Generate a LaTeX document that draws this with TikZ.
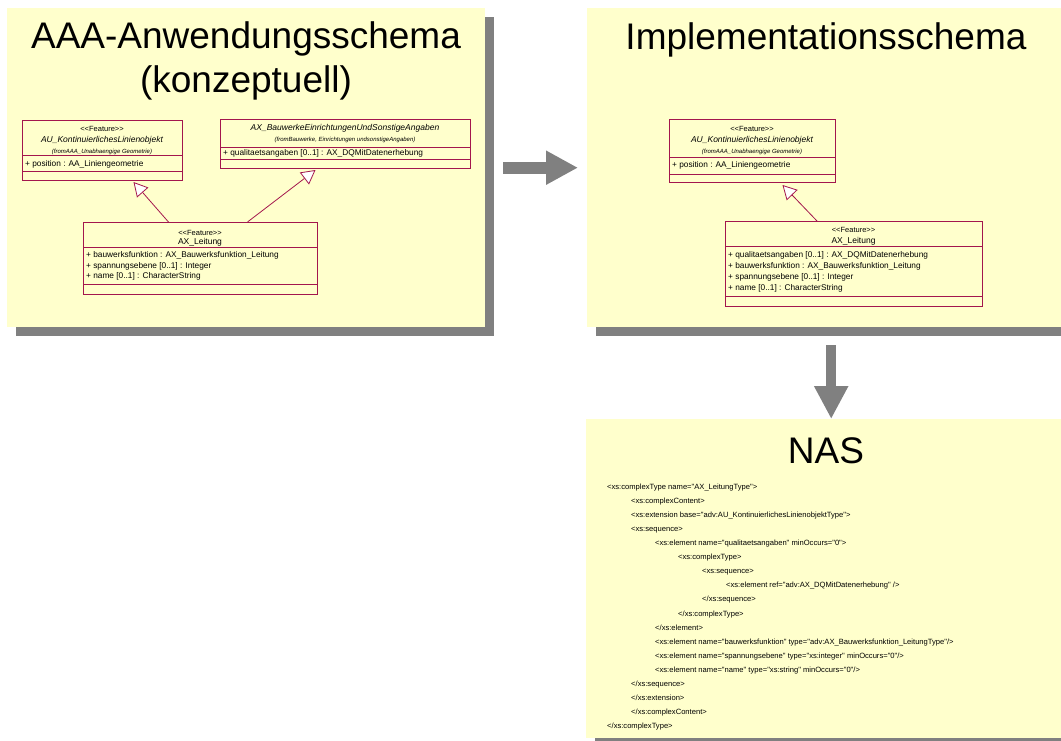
\documentclass[tikz,border=0pt]{standalone}
\usepackage{fontspec}
\setmainfont{Liberation Sans}[Ligatures=TeXOff]
\usepackage{tikz}
\usetikzlibrary{arrows.meta, shadows, positioning}

\definecolor{paneyellow}{RGB}{255,255,204}
\definecolor{shadowgray}{RGB}{128,128,128}
\definecolor{umlred}{RGB}{163,22,77}
\newcommand{\umlstereo}[1]{<\kern0pt<#1>\kern0pt>}

\tikzset{
  panel/.style={fill=paneyellow, anchor=north west, inner sep=0pt,
    minimum width=478pt, minimum height=319pt,
    drop shadow={shadow xshift=9pt, shadow yshift=-9pt, fill=shadowgray, opacity=1}},
  paneltitle/.style={anchor=base, inner sep=0pt, font=\fontsize{37}{44}\selectfont},
  umlclass/.style={draw=umlred, line width=1pt, anchor=north west, inner sep=0pt},
  compart/.style={draw=umlred, line width=1pt},
  umltxt/.style={inner sep=0pt, text height=1.5ex, text depth=.25ex},
  stereotxt/.style={umltxt, font=\fontsize{7.5}{9}\selectfont},
  classname/.style={umltxt, font=\fontsize{8.5}{10}\selectfont},
  abstractname/.style={umltxt, font=\fontsize{8.5}{10}\selectfont\itshape},
  fromtxt/.style={umltxt, font=\fontsize{6}{7}\selectfont\itshape},
  attrtxt/.style={umltxt, anchor=west, font=\fontsize{8.3}{10}\selectfont},
  xmltxt/.style={umltxt, anchor=west, font=\fontsize{7.6}{9}\selectfont},
  generalization/.style={draw=umlred, line width=0.8pt,
    -{Triangle[open, fill=white, length=14pt, width=15pt]}},
  bigarrow/.style={draw=shadowgray, line width=12pt, -{Triangle[length=32pt, width=32pt]}},
}

\begin{document}
\begin{tikzpicture}[x=1pt, y=-1pt]
    \useasboundingbox (0,0) rectangle (1061,740);
    % conceptual application schema
    \node[panel] (aaa) at (7,8) {};
    \node[paneltitle] (aaatitle) at (246,48) {AAA-Anwendungsschema};
    \node[paneltitle] (aaatitleb) at (246,92) {(konzeptuell)};

    \node[umlclass, minimum width=160pt, minimum height=60pt] (kontA) at (22,120) {};
    \draw[compart] (22,155) -- (182,155);
    \draw[compart] (22,171) -- (182,171);
    \node[stereotxt] (kontAst) at (102,128) {\umlstereo{Feature}};
    \node[abstractname] (kontAname) at (102,139) {AU\_KontinuierlichesLinienobjekt};
    \node[fromtxt] (kontAfrom) at (102,150) {(fromAAA\_Unabhaengige Geometrie)};
    \node[attrtxt] (kontApos) at (25,163) {+ position : AA\_Liniengeometrie};

    \node[umlclass, minimum width=250pt, minimum height=49pt] (bauw) at (220,119) {};
    \draw[compart] (220,147) -- (470,147);
    \draw[compart] (220,159) -- (470,159);
    \node[abstractname] (bauwname) at (345,127) {AX\_BauwerkeEinrichtungenUndSonstigeAngaben};
    \node[fromtxt] (bauwfrom) at (345,138) {(fromBauwerke, Einrichtungen undsonstigeAngaben)};
    \node[attrtxt] (bauwqual) at (223,152) {+ qualitaetsangaben [0..1] : AX\_DQMitDatenerhebung};

    \node[umlclass, minimum width=234pt, minimum height=72pt] (leitA) at (83,222) {};
    \draw[compart] (83,247) -- (317,247);
    \draw[compart] (83,284) -- (317,284);
    \node[stereotxt] (leitAst) at (200,232) {\umlstereo{Feature}};
    \node[classname] (leitAname) at (200,241) {AX\_Leitung};
    \node[attrtxt] (leitAfkt) at (86,254) {+ bauwerksfunktion : AX\_Bauwerksfunktion\_Leitung};
    \node[attrtxt] (leitAsp) at (86,265) {+ spannungsebene [0..1] : Integer};
    \node[attrtxt] (leitAnm) at (86,275) {+ name [0..1] : CharacterString};

    \draw[generalization] ([xshift=-32pt]leitA.north) -- ([xshift=31pt,yshift=-1pt]kontA.south);
    \draw[generalization] ([xshift=47pt]leitA.north) -- ([xshift=-30pt,yshift=-1pt]bauw.south);

    % implementation schema
    \node[panel] (impl) at (587,8) {};
    \node[paneltitle] (impltitle) at (826,49) {Implementationsschema};

    \node[umlclass, minimum width=166pt, minimum height=63pt] (kontD) at (669,119) {};
    \draw[compart] (669,157) -- (835,157);
    \draw[compart] (669,174) -- (835,174);
    \node[stereotxt] (kontDst) at (752,128) {\umlstereo{Feature}};
    \node[abstractname] (kontDname) at (752,139) {AU\_KontinuierlichesLinienobjekt};
    \node[fromtxt] (kontDfrom) at (752,150) {(fromAAA\_Unabhaengige Geometrie)};
    \node[attrtxt] (kontDpos) at (672,164) {+ position : AA\_Liniengeometrie};

    \node[umlclass, minimum width=257pt, minimum height=85pt] (leitE) at (725,221) {};
    \draw[compart] (725,246) -- (982,246);
    \draw[compart] (725,296) -- (982,296);
    \node[stereotxt] (leitEst) at (853.5,229) {\umlstereo{Feature}};
    \node[classname] (leitEname) at (853.5,240) {AX\_Leitung};
    \node[attrtxt] (leitEqual) at (728,254) {+ qualitaetsangaben [0..1] : AX\_DQMitDatenerhebung};
    \node[attrtxt] (leitEfkt) at (728,265) {+ bauwerksfunktion : AX\_Bauwerksfunktion\_Leitung};
    \node[attrtxt] (leitEsp) at (728,276) {+ spannungsebene [0..1] : Integer};
    \node[attrtxt] (leitEnm) at (728,287) {+ name [0..1] : CharacterString};

    \draw[generalization] ([xshift=-37pt]leitE.north) -- ([xshift=30pt,yshift=-2pt]kontD.south);

    % NAS schema
    \node[panel] (nas) at (586,419) {};
    \node[paneltitle] (nastitle) at (826,463) {NAS};
    \node[xmltxt] (xml1) at (607,486) {<xs:complexType name="AX\_LeitungType">};
    \node[xmltxt] (xml2) at (631,500) {<xs:complexContent>};
    \node[xmltxt] (xml3) at (631,514) {<xs:extension base="adv:AU\_KontinuierlichesLinienobjektType">};
    \node[xmltxt] (xml4) at (631,528) {<xs:sequence>};
    \node[xmltxt] (xml5) at (655,542) {<xs:element name="qualitaetsangaben" minOccurs="0">};
    \node[xmltxt] (xml6) at (678,556) {<xs:complexType>};
    \node[xmltxt] (xml7) at (702,570) {<xs:sequence>};
    \node[xmltxt] (xml8) at (726,584) {<xs:element ref="adv:AX\_DQMitDatenerhebung" />};
    \node[xmltxt] (xml9) at (702,598) {</xs:sequence>};
    \node[xmltxt] (xml10) at (678,613) {</xs:complexType>};
    \node[xmltxt] (xml11) at (655,627) {</xs:element>};
    \node[xmltxt] (xml12) at (655,641) {<xs:element name="bauwerksfunktion" type="adv:AX\_Bauwerksfunktion\_LeitungType"/>};
    \node[xmltxt] (xml13) at (655,655) {<xs:element name="spannungsebene" type="xs:integer" minOccurs="0"/>};
    \node[xmltxt] (xml14) at (655,669) {<xs:element name="name" type="xs:string" minOccurs="0"/>};
    \node[xmltxt] (xml15) at (631,683) {</xs:sequence>};
    \node[xmltxt] (xml16) at (631,697) {</xs:extension>};
    \node[xmltxt] (xml17) at (631,711) {</xs:complexContent>};
    \node[xmltxt] (xml18) at (607,725) {</xs:complexType>};

    % transformation arrows
    \draw[bigarrow, shorten <=18pt, shorten >=9pt] (aaa.east) -- (impl.west);
    \draw[bigarrow, line width=10pt, -{Triangle[length=33pt, width=32pt]}, shorten <=18pt]
        ([xshift=5pt]impl.south) -- ([xshift=5pt]impl.south |- nas.north);
\end{tikzpicture}
\end{document}
